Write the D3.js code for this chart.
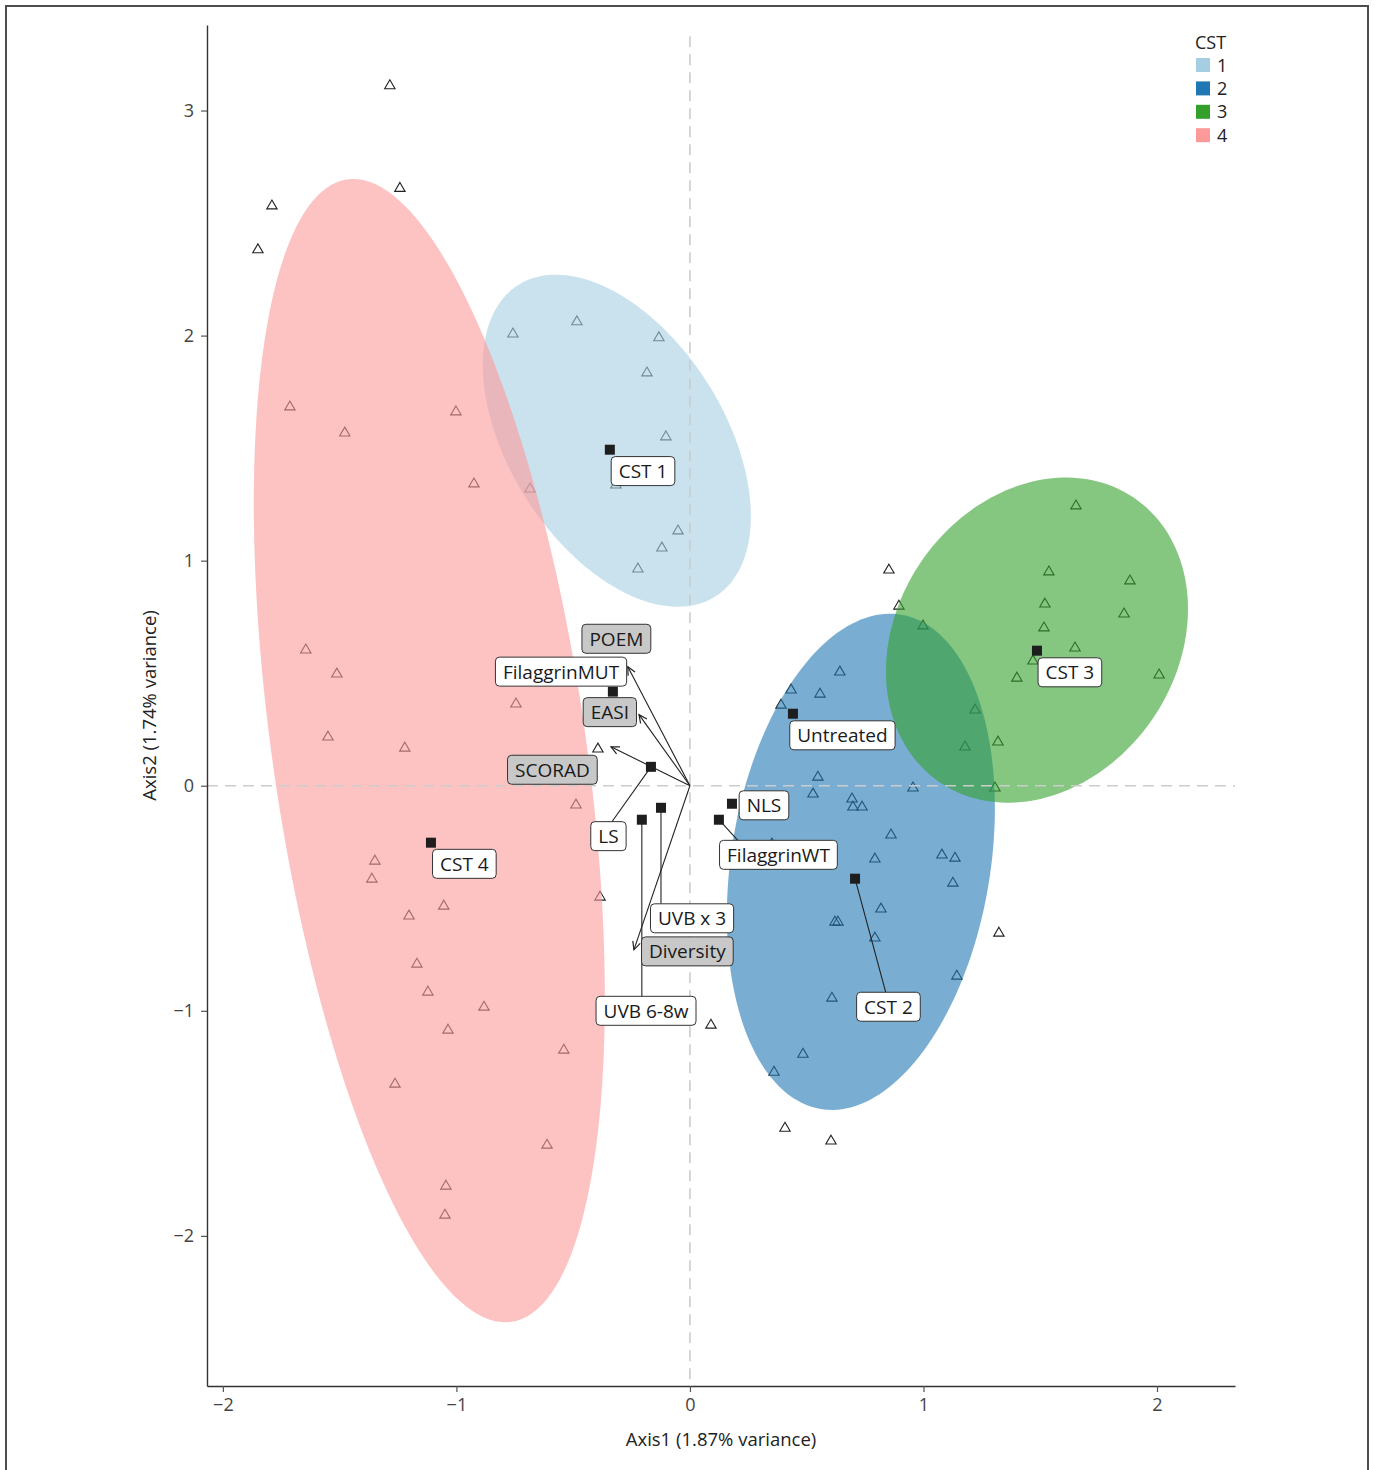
<!DOCTYPE html>
<html>
<head>
<meta charset="utf-8">
<script src="https://cdn.jsdelivr.net/npm/d3@7"></script>
<style>
  body { margin: 0; background: #fff; }
  text { font-family: "Open Sans", "Noto Sans", sans-serif; }
</style>
</head>
<body>
<svg id="chart" width="1375" height="1470"></svg>
<script>
// ---------------- data ----------------
// sample scores on the first two ordination axes
const samples = [
  [-1.285,3.116],[-1.242,2.660],[-1.790,2.582],[-1.850,2.387],[-0.394,0.169],[0.852,0.964],
  [0.895,0.804],[1.323,-0.649],[0.090,-1.058],[0.407,-1.516],[0.604,-1.573],
  [-0.758,2.013],[-0.484,2.067],[-0.133,1.996],[-0.184,1.840],[-0.103,1.556],[-0.317,1.342],
  [-0.051,1.138],[-0.120,1.062],[-0.223,0.969],
  [-1.713,1.689],[-1.478,1.573],[-1.002,1.667],[-0.925,1.347],[-0.685,1.324],[-1.645,0.609],
  [-1.512,0.502],[-0.745,0.369],[-1.550,0.222],[-1.221,0.173],[-0.488,-0.080],[-1.349,-0.329],
  [-1.362,-0.409],[-1.054,-0.529],[-1.203,-0.573],[-0.385,-0.489],[-1.169,-0.787],[-1.122,-0.911],
  [-0.882,-0.978],[-1.036,-1.080],[-0.540,-1.169],[-1.263,-1.320],[-0.612,-1.591],[-1.045,-1.773],
  [-1.049,-1.902],
  [0.642,0.511],[0.433,0.431],[0.557,0.413],[0.390,0.364],[0.548,0.044],[0.527,-0.031],
  [0.955,-0.004],[0.694,-0.053],[0.698,-0.089],[0.737,-0.089],[0.861,-0.213],[0.792,-0.320],
  [1.079,-0.302],[1.135,-0.316],[1.126,-0.427],[0.351,-0.253],[0.818,-0.542],[0.621,-0.600],
  [0.634,-0.600],[0.792,-0.671],[1.143,-0.840],[0.608,-0.938],[0.484,-1.187],[0.360,-1.267],
  [1.653,1.249],[1.537,0.956],[1.884,0.916],[1.520,0.813],[1.859,0.769],[0.998,0.716],
  [1.516,0.707],[1.649,0.618],[1.469,0.560],[1.400,0.484],[2.009,0.498],[1.221,0.342],
  [1.319,0.200],[1.178,0.178],[1.306,-0.004]
];

// community state types
const cstGroups = ["1", "2", "3", "4"];
const cstColors = ["#a6cee3", "#1f78b4", "#33a02c", "#fb9a99"];
// ellipse centre and shape matrix (sxx, sxy, syy) for each CST
const ellipseCentre = [[-0.313, 1.533], [0.732, -0.338], [1.486, 0.647], [-1.116, 0.156]];
const ellipseShape  = [[0.3293, -0.1927, 0.5443], [0.3293, 0.1369, 1.2149],
                       [0.4182, 0.0897, 0.5216], [0.565, -0.8267, 6.452]];

// factor centroids
const centroidNames = ["CST 1", "CST 2", "CST 3", "CST 4", "Untreated", "NLS",
                       "FilaggrinWT", "FilaggrinMUT", "LS", "UVB x 3", "UVB 6-8w"];
const centroidAxis1 = [-0.343, 0.707, 1.486, -1.109, 0.441, 0.180, 0.124, -0.330, -0.167, -0.124, -0.206];
const centroidAxis2 = [1.493, -0.413, 0.600, -0.253, 0.320, -0.080, -0.151, 0.418, 0.084, -0.098, -0.151];

// fitted continuous variables
const vectorNames = ["POEM", "EASI", "SCORAD", "Diversity"];
const vectorAxis1 = [-0.266, -0.218, -0.338, -0.240];
const vectorAxis2 = [0.529, 0.316, 0.173, -0.729];

const xTicks = [-2, -1, 0, 1, 2];
const yTicks = [-2, -1, 0, 1, 2, 3];

// ---------------- label layout (repelled positions, axis units) ----------------
const centroidLabelPos = {
  "CST 1": [-0.201, 1.398], "CST 2": [0.850, -0.982], "CST 3": [1.627, 0.504],
  "CST 4": [-0.966, -0.347], "Untreated": [0.653, 0.224], "NLS": [0.317, -0.087],
  "FilaggrinWT": [0.379, -0.307], "FilaggrinMUT": [-0.552, 0.507], "LS": [-0.349, -0.224],
  "UVB x 3": [0.009, -0.589], "UVB 6-8w": [-0.188, -1.000]
};
const centroidLeaderEnd = {
  "CST 2": [0.839, -0.920], "LS": [-0.334, -0.160], "FilaggrinWT": [0.206, -0.244],
  "UVB x 3": [-0.124, -0.524], "UVB 6-8w": [-0.206, -0.938]
};
const vectorLabelPos = {
  "POEM": [-0.315, 0.653], "EASI": [-0.343, 0.327],
  "SCORAD": [-0.589, 0.071], "Diversity": [-0.011, -0.736]
};

// ---------------- chart ----------------
const svg = d3.select("#chart");
const x = d3.scaleLinear().domain([-2.068, 2.334]).range([207, 1235]);
const y = d3.scaleLinear().domain([-2.667, 3.38]).range([1386, 25]);
const minus = v => (v < 0 ? "\u2212" + Math.abs(v) : String(v));

// outer frame
svg.append("rect").attr("x", 6).attr("y", 6).attr("width", 1362).attr("height", 1470)
  .attr("fill", "none").attr("stroke", "#4d4d4d").attr("stroke-width", 2);

// sample points (open triangles)
const tri = "M0,-4.6L5.2,4.3L-5.2,4.3Z";
svg.append("g").selectAll("path").data(samples).join("path")
  .attr("d", tri)
  .attr("transform", d => `translate(${x(d[0])},${y(d[1])})`)
  .attr("fill", "none").attr("stroke", "#222").attr("stroke-width", 1.1);

// confidence ellipses
const ellipseLine = d3.line().x(p => x(p[0])).y(p => y(p[1])).curve(d3.curveLinearClosed);
const ell = svg.append("g");
cstGroups.forEach((g, i) => {
  const [cx, cy] = ellipseCentre[i];
  const [sxx, sxy, syy] = ellipseShape[i];
  const a11 = Math.sqrt(sxx), a21 = sxy / a11, a22 = Math.sqrt(syy - a21 * a21);
  const pts = d3.range(0, 2 * Math.PI, Math.PI / 90).map(t => {
    const u = Math.cos(t), v = Math.sin(t);
    return [cx + a11 * u, cy + a21 * u + a22 * v];
  });
  ell.append("path").attr("d", ellipseLine(pts))
    .attr("fill", cstColors[i]).attr("fill-opacity", 0.6);
});

// reference lines through the origin
svg.append("line").attr("x1", x(0)).attr("x2", x(0)).attr("y1", y(3.33)).attr("y2", y.range()[0])
  .attr("stroke", "#cccccc").attr("stroke-width", 1.6).attr("stroke-dasharray", "11,7");
svg.append("line").attr("x1", x.range()[0]).attr("x2", x.range()[1]).attr("y1", y(0)).attr("y2", y(0))
  .attr("stroke", "#cccccc").attr("stroke-width", 1.6).attr("stroke-dasharray", "11,7");

// axes
const xAxis = svg.append("g").attr("transform", `translate(0,${y.range()[0]})`)
  .call(d3.axisBottom(x).tickValues(xTicks).tickFormat(minus).tickSize(6).tickSizeOuter(0).tickPadding(6));
const yAxis = svg.append("g").attr("transform", `translate(${x.range()[0]},0)`)
  .call(d3.axisLeft(y).tickValues(yTicks).tickFormat(minus).tickSize(6).tickSizeOuter(0).tickPadding(7));
[xAxis, yAxis].forEach(a => {
  a.select(".domain").attr("stroke", "#333").attr("stroke-width", 1.4);
  a.selectAll(".tick line").attr("stroke", "#555").attr("stroke-width", 1.2);
  a.selectAll(".tick text").attr("fill", "#444").style("font-size", "18px")
    .style("font-family", "'Open Sans','Noto Sans',sans-serif");
});

svg.append("text").attr("x", (x.range()[0] + x.range()[1]) / 2).attr("y", 1446)
  .attr("text-anchor", "middle").attr("fill", "#222").style("font-size", "18.5px")
  .text("Axis1 (1.87% variance)");
svg.append("text")
  .attr("transform", `translate(156,${(y.range()[0] + y.range()[1]) / 2}) rotate(-90)`)
  .attr("text-anchor", "middle").attr("fill", "#222").style("font-size", "18.5px")
  .text("Axis2 (1.74% variance)");

// legend
const lg = svg.append("g");
lg.append("text").attr("x", 1195).attr("y", 49).attr("fill", "#222").style("font-size", "18px").text("CST");
cstGroups.forEach((g, i) => {
  lg.append("rect").attr("x", 1196).attr("y", 58 + i * 23.4).attr("width", 14).attr("height", 14)
    .attr("fill", cstColors[i]);
  lg.append("text").attr("x", 1217).attr("y", 71.5 + i * 23.4).attr("fill", "#222")
    .style("font-size", "18px").text(g);
});

// labelled box helper
function labelBox(parent, name, pos, fill) {
  const g = parent.append("g");
  const t = g.append("text").attr("x", x(pos[0])).attr("y", y(pos[1]))
    .attr("text-anchor", "middle").attr("dominant-baseline", "central")
    .attr("fill", "#1a1a1a").style("font-size", "19px").text(name);
  const w = t.node().getComputedTextLength() + 15, h = 29;
  g.insert("rect", "text").attr("x", x(pos[0]) - w / 2).attr("y", y(pos[1]) - h / 2)
    .attr("width", w).attr("height", h).attr("rx", 4).attr("ry", 4)
    .attr("fill", fill).attr("stroke", "#333").attr("stroke-width", 1);
}

// centroid squares, leaders and labels
const cg = svg.append("g");
centroidNames.forEach((n, i) => {
  const end = centroidLeaderEnd[n];
  if (end) {
    cg.append("line").attr("x1", x(centroidAxis1[i])).attr("y1", y(centroidAxis2[i]))
      .attr("x2", x(end[0])).attr("y2", y(end[1])).attr("stroke", "#222").attr("stroke-width", 1.1);
  }
});
centroidNames.forEach((n, i) => {
  cg.append("rect").attr("x", x(centroidAxis1[i]) - 5).attr("y", y(centroidAxis2[i]) - 5)
    .attr("width", 10).attr("height", 10).attr("fill", "#1e1e1e");
});
centroidNames.forEach(n => labelBox(cg, n, centroidLabelPos[n], "#ffffff"));

// fitted vectors (arrows from origin)
const vg = svg.append("g");
vectorNames.forEach((n, i) => {
  const x0 = x(0), y0 = y(0), x1 = x(vectorAxis1[i]), y1 = y(vectorAxis2[i]);
  vg.append("line").attr("x1", x0).attr("y1", y0).attr("x2", x1).attr("y2", y1)
    .attr("stroke", "#222").attr("stroke-width", 1.1);
  const ang = Math.atan2(y1 - y0, x1 - x0), L = 9, a = Math.PI / 7;
  const p1 = [x1 - L * Math.cos(ang - a), y1 - L * Math.sin(ang - a)];
  const p2 = [x1 - L * Math.cos(ang + a), y1 - L * Math.sin(ang + a)];
  vg.append("path").attr("d", `M${p1[0]},${p1[1]}L${x1},${y1}L${p2[0]},${p2[1]}`)
    .attr("fill", "none").attr("stroke", "#222").attr("stroke-width", 1.2);
});
vectorNames.forEach(n => labelBox(vg, n, vectorLabelPos[n], "#c8c8c8"));
</script>
</body>
</html>
